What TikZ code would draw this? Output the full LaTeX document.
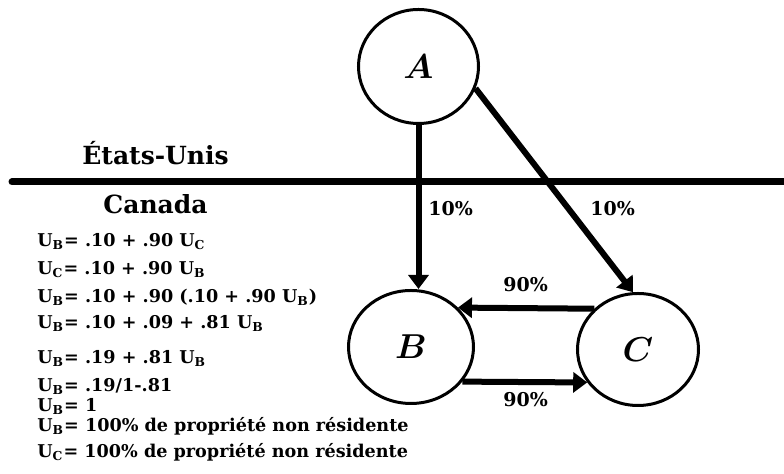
\documentclass[tikz,border=0pt]{standalone}
\usepackage{fontspec}
\setmainfont{DejaVu Serif}
\usetikzlibrary{arrows.meta,positioning,shapes.geometric}

\tikzset{
  flow/.style={line width=3pt,-{Triangle[length=7pt,width=10pt]}},
  firm/.style={ellipse,draw,line width=1.5pt,inner sep=0pt,
    font=\fontsize{18}{20}\selectfont\boldmath},
  country/.style={anchor=base west,inner sep=0pt,
    font=\fontsize{12.5}{14}\selectfont\bfseries},
  eqn/.style={anchor=base west,inner sep=0pt,
    font=\fontsize{8.8}{10}\selectfont\bfseries},
  share/.style={anchor=base west,inner sep=0pt,
    font=\fontsize{9.5}{11}\selectfont\bfseries},
}
\newcommand{\us}[1]{U\textsubscript{#1}}

\begin{document}
\begin{tikzpicture}[x=0.5pt,y=-0.5pt]
\useasboundingbox (0,0) rectangle (784,474);

% Firms
\node[firm,minimum width=60pt,minimum height=57pt] (A) at (418.5,66.5) {$A$};
\node[firm,minimum width=62.5pt,minimum height=56.5pt] (B) at (411,347) {$B$};
\node[firm,minimum width=60.5pt,minimum height=56pt] (C) at (638,349.5) {$C$};

% Border
\coordinate (bw) at (12,182);
\coordinate (be) at (784,182);
\draw[line width=3.5pt,line cap=round] (bw) -- (be);
\node[country] (us) at (82,165) {États-Unis};
\node[country] (ca) at (103,214) {Canada};

% Ownership links
\draw[flow] (A.south) -- (A.south |- B.north);
\draw[flow] (A.-21) -- (C.95);
\draw[flow] (C.137) -- (B.40);
\draw[flow] (B.-34) -- (C.213);

\node[share] (ab) at (428,216) {10\%};
\node[share] (ac) at (590,216) {10\%};
\node[share] (cb) at (503,292) {90\%};
\node[share] (bc) at (503,407) {90\%};

% Equations
\node[eqn] (eq1) at (37,247) {\us{B}= .10 + .90 \us{C}};
\node[eqn] (eq2) at (37,275) {\us{C}= .10 + .90 \us{B}};
\node[eqn] (eq3) at (37,303) {\us{B}= .10 + .90 (.10 + .90 \us{B})};
\node[eqn] (eq4) at (37,329) {\us{B}= .10 + .09 + .81 \us{B}};
\node[eqn] (eq5) at (37,364) {\us{B}= .19 + .81 \us{B}};
\node[eqn] (eq6) at (37,392) {\us{B}= .19/1-.81};
\node[eqn] (eq7) at (37,412) {\us{B}= 1};
\node[eqn] (eq8) at (37,432) {\us{B}= 100\% de propriété non résidente};
\node[eqn] (eq9) at (37,458) {\us{C}= 100\% de propriété non résidente};
\end{tikzpicture}
\end{document}
